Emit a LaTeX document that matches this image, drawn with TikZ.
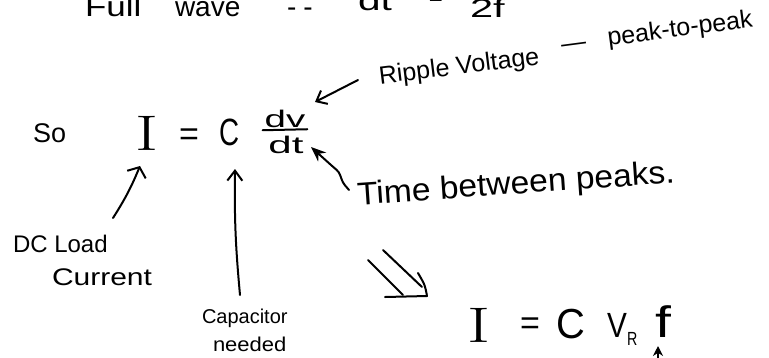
\documentclass[tikz,border=0pt]{standalone}
\usetikzlibrary{arrows.meta}
\usepackage{graphicx}
\usepackage{fontspec}
\setsansfont{Liberation Sans}
\newcommand\hwfs[1]{\fontsize{#1}{#1}\selectfont\sffamily}
\begin{document}
\begin{tikzpicture}[x=1pt,y=-1pt,
  txt/.style={inner sep=0pt, outer sep=0pt},
  pen/.style={line width=2pt, line cap=round, line join=round},
  barb/.style={-{Straight Barb[length=9pt,width=15pt]}},
  fat/.style={-{Stealth[length=15pt,width=12pt]}}]
\clip (0,0) rectangle (769,357);
\fill[white] (0,0) rectangle (769,357);
% top line (cut off at the top edge, as in the reference)
\node[txt,anchor=base west,font=\hwfs{28}] (full) at (85,16) {\scalebox{1.25}[1]{Full}};
\node[txt,anchor=base west,font=\hwfs{28}] (wave) at (175,16) {wave};
\node[txt,anchor=base west,font=\hwfs{28}] (dashes) at (287,16) {-\hspace{7pt}-};
\node[txt,anchor=base west,font=\hwfs{28}] (dtzero) at (358,10) {\scalebox{1.45}[1]{dt}};
\node[txt,font=\hwfs{24}] (eqzero) at (436,0) {=};
\node[txt,anchor=base west,font=\hwfs{26}] (twof) at (470,17) {\scalebox{1.6}[1]{2f}};
% main equation
\node[txt,anchor=base west,font=\hwfs{27}] (so) at (33,142) {So};
\node[txt,anchor=base,font=\hwfs{50}] (Ione) at (147,150) {\rmfamily\scalebox{1.4}[1]{I}};
\node[txt,font=\hwfs{34}] (eqone) at (189,137) {=};
\node[txt,anchor=base,font=\hwfs{38}] (Cone) at (230,145) {\scalebox{0.73}[1]{C}};
\node[txt,anchor=base,font=\hwfs{24}] (dv) at (285,127) {\scalebox{1.6}[1]{dv}};
\node[txt,anchor=base,font=\hwfs{24}] (dtone) at (286,153) {\scalebox{1.75}[1]{dt}};
\draw[pen] ([xshift=-2pt,yshift=-3pt]dv.south west) -- ([xshift=2pt,yshift=-2pt]dv.south east);
% labels
\node[txt,anchor=base west,rotate=7,font=\hwfs{25}] (ripple) at (380,84) {Ripple Voltage};
\node[txt,anchor=base west,rotate=7.5,font=\hwfs{25}] (peak) at (562,52) {---\hspace{22pt}peak-to-peak};
\node[txt,anchor=base west,rotate=4,font=\hwfs{32}] (time) at (358,205) {\scalebox{1.05}[1]{Time between peaks.}};
\node[txt,anchor=base west,font=\hwfs{24}] (dcload) at (13,252) {DC Load};
\node[txt,anchor=base west,font=\hwfs{24}] (current) at (52,285) {\scalebox{1.25}[1]{Current}};
\node[txt,anchor=base west,font=\hwfs{20}] (capac) at (202,323) {Capacitor};
\node[txt,anchor=base west,font=\hwfs{20}] (needed) at (213,351) {\scalebox{1.1}[1]{needed}};
% second equation
\node[txt,anchor=base,font=\hwfs{50}] (Itwo) at (479,342) {\rmfamily\scalebox{1.4}[1]{I}};
\node[txt,font=\hwfs{34}] (eqtwo) at (530,326) {=};
\node[txt,anchor=base,font=\hwfs{42}] (Ctwo) at (571,338) {\scalebox{0.95}[1]{C}};
\node[txt,anchor=base,font=\hwfs{35}] (V) at (617,337) {\scalebox{0.85}[1]{V}};
\node[txt,anchor=base west,font=\hwfs{19}] (R) at (627,345) {\scalebox{0.75}[1]{R}};
\node[txt,anchor=base,font=\hwfs{44}] (f) at (663,337) {\scalebox{1.3}[1]{f}};
% connectors
\coordinate (ripA) at (358,80); \coordinate (ripB) at (315,102);
\draw[pen,barb] (ripA) -- (ripB);
\coordinate (timA) at (349,190); \coordinate (timB) at (311,147);
\draw[pen,rounded corners=3pt,fat] (timA) -- (343,183) -- (339,172) -- (331,165) -- (timB);
\coordinate (iA) at (113,218); \coordinate (iB) at (140,166);
\draw[pen,-{Straight Barb[length=8pt,width=20pt]}] (iA) to[bend right=5] (iB);
\coordinate (cA) at (240,295); \coordinate (cB) at (235,169);
\draw[pen,-{Straight Barb[length=10pt,width=15pt]}] (cA) to[bend left=3] (cB);
\coordinate (fA) at (658,372); \coordinate (fB) at (658,346);
\draw[pen,-{Stealth[length=10pt,width=10pt]}] (fA) -- (fB);
% double arrow
\draw[pen] (383,250) -- (422,287);
\draw[pen] (368,260) -- (403,295);
\draw[pen] (385,297) -- (427,296) .. controls (425,285) .. (418,273);
\end{tikzpicture}
\end{document}
